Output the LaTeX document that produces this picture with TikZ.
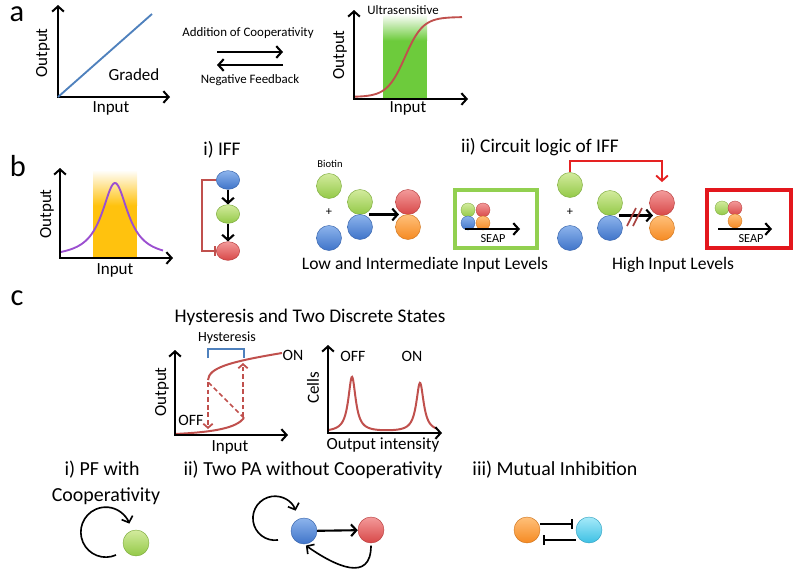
\documentclass[tikz,border=0pt]{standalone}
\usepackage{fontspec}
\setmainfont{Carlito}
\usetikzlibrary{shapes, arrows.meta, positioning, calc}

\definecolor{lineblue}{HTML}{4F81BD}
\definecolor{curvered}{HTML}{C0504D}
\definecolor{bandgreen}{HTML}{6DCB3C}
\definecolor{bandorange}{HTML}{FFC20E}
\definecolor{bellpurple}{HTML}{9B4FD0}
\definecolor{boxgreen}{HTML}{92D050}
\definecolor{boxred}{HTML}{E3171D}
\definecolor{fbred}{HTML}{E52222}
\definecolor{hashred}{HTML}{A8423F}
\definecolor{gtop}{HTML}{D3EB9E}
\definecolor{gbot}{HTML}{93C947}
\definecolor{btop}{HTML}{8DB4EC}
\definecolor{bbot}{HTML}{3F74C9}
\definecolor{rtop}{HTML}{F39A9A}
\definecolor{rbot}{HTML}{D84848}
\definecolor{otop}{HTML}{FFC07A}
\definecolor{obot}{HTML}{F58A22}
\definecolor{ctop}{HTML}{A6EAF9}
\definecolor{cbot}{HTML}{3DC0E4}

\begin{document}
\begin{tikzpicture}[x=0.03cm, y=-0.03cm,
        panel/.style={font=\fontsize{26}{28}\selectfont},
        axlab/.style={font=\fontsize{14.5}{16}\selectfont},
        sidelab/.style={font=\fontsize{11}{13}\selectfont},
        headlab/.style={font=\fontsize{16.5}{18}\selectfont},
        levlab/.style={font=\fontsize{15}{17}\selectfont},
        loplab/.style={font=\fontsize{17}{19}\selectfont},
        statelab/.style={font=\fontsize{13.5}{15}\selectfont},
        tinylab/.style={font=\fontsize{9}{10}\selectfont},
        seaplab/.style={font=\fontsize{10.5}{12}\selectfont},
        axisln/.style={line width=1.7pt, {Straight Barb[length=4.5pt,width=10pt]}-{Straight Barb[length=4.5pt,width=10pt]}},
        blkar/.style={line width=1.8pt, -{Straight Barb[length=4.5pt,width=10pt]}},
        thinar/.style={line width=1.4pt, -{Straight Barb[length=4.5pt,width=10pt]}},
        dashar/.style={curvered, line width=1.5pt, dash pattern=on 4pt off 2.5pt, -{Straight Barb[length=3.5pt,width=8pt]}},
        inh/.style={line width=1.8pt, -{Bar[width=9pt,line width=1.8pt]}},
        mol/.style={circle, minimum size=0.75cm, inner sep=0pt, line width=0.4pt},
        smallmol/.style={circle, minimum size=0.42cm, inner sep=0pt, line width=0.3pt},
        bmol/.style={circle, minimum size=0.78cm, inner sep=0pt, line width=0.4pt},
        ell/.style={ellipse, minimum width=0.7cm, minimum height=0.56cm, inner sep=0pt, line width=0.4pt},
        gball/.style={top color=gtop, bottom color=gbot, draw=gbot!85!black},
        bball/.style={top color=btop, bottom color=bbot, draw=bbot!85!black},
        rball/.style={top color=rtop, bottom color=rbot, draw=rbot!85!black},
        oball/.style={top color=otop, bottom color=obot, draw=obot!85!black},
        cball/.style={top color=ctop, bottom color=cbot, draw=cbot!85!black}]
    \useasboundingbox (0,0) rectangle (800,582);

    % a: graded and ultrasensitive
    \node (pa) [panel] at (17,14) {a};
    \coordinate (a1o) at (58,97);
    \draw[axisln] (58,5) -- (a1o) -- (170,97);
    \draw[lineblue, line width=1.6pt] (a1o) -- (152,14);
    \node (graded) [axlab] at (134,75) {Graded};
    \node (a1x) [axlab] at (111,108) {Input};
    \node (a1y) [axlab, rotate=90] at (43,53) {Output};

    \coordinate (cf1) at (217,52);
    \coordinate (cf2) at (283,52);
    \coordinate (nf1) at (283,65);
    \coordinate (nf2) at (217,65);
    \draw[blkar] (cf1) -- (cf2);
    \draw[blkar] (nf1) -- (nf2);
    \node (addc) [sidelab] at (248,33) {Addition of Cooperativity};
    \node (negf) [sidelab] at (250,80) {Negative Feedback};

    \fill[bandgreen] (383,40) rectangle (427,99);
    \shade[top color=white, bottom color=bandgreen] (383,14) rectangle (427,40.5);
    \draw[curvered, line width=1.6pt] plot[domain=355:462, samples=80] (\x, {97-80/(1+exp(-(\x-405)/9))});
    \draw[axisln] (354,10) -- (354,99) -- (468,99);
    \node (ultra) [sidelab] at (403,10) {Ultrasensitive};
    \node (a2x) [axlab] at (408,108) {Input};
    \node (a2y) [axlab, rotate=90] at (340,55) {Output};

    % b: incoherent feed-forward
    \node (pb) [panel] at (18,166) {b};
    \fill[bandorange] (93,205) rectangle (137,257);
    \shade[top color=white, bottom color=bandorange] (93,170) rectangle (137,205.5);
    \draw[bellpurple, line width=1.6pt] plot[domain=60:163, samples=80] (\x, {258-75/(1+((\x-115)/16)^2)});
    \draw[axisln] (60,168) -- (60,258) -- (173,258);
    \node (b1x) [axlab] at (115,270) {Input};
    \node (b1y) [axlab, rotate=90] at (47,214) {Output};

    \node (iff) [headlab] at (222,150) {i) IFF};
    \node (i1) [ell, bball] at (228,180) {};
    \node (i2) [ell, gball] at (228,214) {};
    \node (i3) [ell, rball] at (228,251) {};
    \draw[blkar] (i1) -- (i2);
    \draw[blkar] (i2) -- (i3);
    \draw[curvered, line width=1.6pt, -{Bar[width=8pt,line width=1.6pt]}] (i1.west) -- ++(-14,0) |- (i3.west);

    \node (logic) [headlab] at (540,147) {ii) Circuit logic of IFF};
    \node (bio) [tinylab] at (330,164) {Biotin};
    \node (g1) [mol, gball] at (329,186) {};
    \node (plus1) [seaplab] at (329,212) {+};
    \node (b1) [mol, bball] at (329,238) {};
    \node (g2) [mol, gball] at (360,202) {};
    \node (b2) [mol, bball] at (360,227) {};
    \node (r2) [mol, rball] at (408,202) {};
    \node (o2) [mol, oball] at (408,227) {};
    \draw[blkar] ($(g2.south east)!0.5!(b2.north east)$) -- ($(r2.south west)!0.5!(o2.north west)$);

    \node (gbox) [draw=boxgreen, line width=3.2pt, minimum width=2.48cm, minimum height=1.72cm] at (496,219) {};
    \node (sg) [smallmol, gball] at (468,210) {};
    \node (sr) [smallmol, rball] at (483,210) {};
    \node (sb) [smallmol, bball] at (468,223) {};
    \node (so) [smallmol, oball] at (483,223) {};
    \coordinate (sa1) at (465,229);
    \coordinate (sa2) at (520,229);
    \draw[blkar] (sa1) -- (sa2);
    \node (seap1) [seaplab] at (493,239) {SEAP};
    \node (lowlev) [levlab] at (425,265) {Low and Intermediate Input Levels};

    \node (g3) [mol, gball] at (570,185) {};
    \node (plus2) [seaplab] at (570,212) {+};
    \node (b3) [mol, bball] at (570,238) {};
    \node (g4) [mol, gball] at (610,203) {};
    \node (b4) [mol, bball] at (610,228) {};
    \node (r4) [mol, rball] at (662,203) {};
    \node (o4) [mol, oball] at (662,228) {};
    \draw[fbred, line width=1.6pt, -{Straight Barb[length=4.5pt,width=10pt]}, shorten >=7pt] (g3.north) -- ++(0,-11) -| (r4.north);
    \draw[blkar] ($(g4.south east)!0.5!(b4.north east)$) -- ($(r4.south west)!0.5!(o4.north west)$);
    \draw[hashred, line width=1.4pt] (627,226) -- (636,208) (633,226) -- (642,208);

    \node (rbox) [draw=boxred, line width=3.5pt, minimum width=2.5cm, minimum height=1.72cm] at (749,219) {};
    \node (tg) [smallmol, gball] at (722,208) {};
    \node (tr) [smallmol, rball] at (735,208) {};
    \node (tor) [smallmol, oball] at (735,221) {};
    \coordinate (ta1) at (718,229);
    \coordinate (ta2) at (772,229);
    \draw[blkar] (ta1) -- (ta2);
    \node (seap2) [seaplab] at (751,239) {SEAP};
    \node (highlev) [levlab] at (673,265) {High Input Levels};

    % c: bistability
    \node (pc) [panel] at (17,298) {c};
    \node (hyst) [headlab] at (310,317) {Hysteresis and Two Discrete States};

    \draw[lineblue, line width=1.7pt] (208,358) -- (208,349) -- (244,349) -- (244,358);
    \node (hlab) [statelab, font=\fontsize{12}{14}\selectfont] at (227,338) {Hysteresis};
    \draw[curvered, line width=1.7pt] (175,434) .. controls (215,432) and (236,428) .. (244,418);
    \draw[curvered, line width=1.7pt] (208,380) .. controls (209,368) and (228,362) .. (282,353);
    \draw[curvered, line width=1.5pt, dash pattern=on 4pt off 2.5pt] (244,418) -- (208,382);
    \draw[dashar] (208,382) -- (208,429);
    \draw[dashar] (243,417) -- (243,363);
    \draw[axisln] (175,350) -- (175,435) -- (288,435);
    \node (on1) [statelab] at (293,355) {ON};
    \node (off1) [statelab] at (191,420) {OFF};
    \node (c1x) [axlab] at (230,447) {Input};
    \node (c1y) [axlab, rotate=90] at (162,392) {Output};

    \draw[curvered, line width=1.7pt] plot[domain=329:436, samples=200] (\x, {432-55/(1+((\x-352)/4.5)^2)-49/(1+((\x-420)/4.5)^2)});
    \draw[axisln] (328,345) -- (328,433) -- (442,433);
    \node (off2) [statelab] at (353,356) {OFF};
    \node (on2) [statelab] at (412,356) {ON};
    \node (c2x) [axlab] at (383,445) {Output intensity};
    \node (c2y) [axlab, rotate=90] at (313,388) {Cells};

    \node (pflab) [loplab] at (102,470) {i) PF with};
    \node (cooplab) [loplab] at (106,496) {Cooperativity};
    \node (pf) [bmol, gball] at (136,543) {};
    \draw[thinar] (pf) ++(-20,12) arc[start angle=66, end angle=340, radius=25];

    \node (twolab) [loplab] at (313,470) {ii) Two PA without Cooperativity};
    \node (p1) [bmol, bball] at (304,531) {};
    \node (p2) [bmol, rball] at (371,530) {};
    \draw[blkar] (p1) -- (p2);
    \draw[thinar] (p1) ++(-26,9) arc[start angle=82, end angle=340, radius=22];
    \draw[thinar, shorten <=2pt, shorten >=2pt] (p2.south) to[out=-90, in=-35, looseness=1.5] (p1.south);

    \node (mutlab) [loplab] at (555,470) {iii) Mutual Inhibition};
    \node (m1) [bmol, oball] at (527,530) {};
    \node (m2) [bmol, cball] at (589,530) {};
    \draw[inh, shorten >=2pt] ([yshift=5pt]m1.east) -- ([yshift=5pt]m2.west);
    \draw[inh, shorten >=2pt] ([yshift=-8.5pt]m2.west) -- ([yshift=-8.5pt]m1.east);
\end{tikzpicture}
\end{document}
